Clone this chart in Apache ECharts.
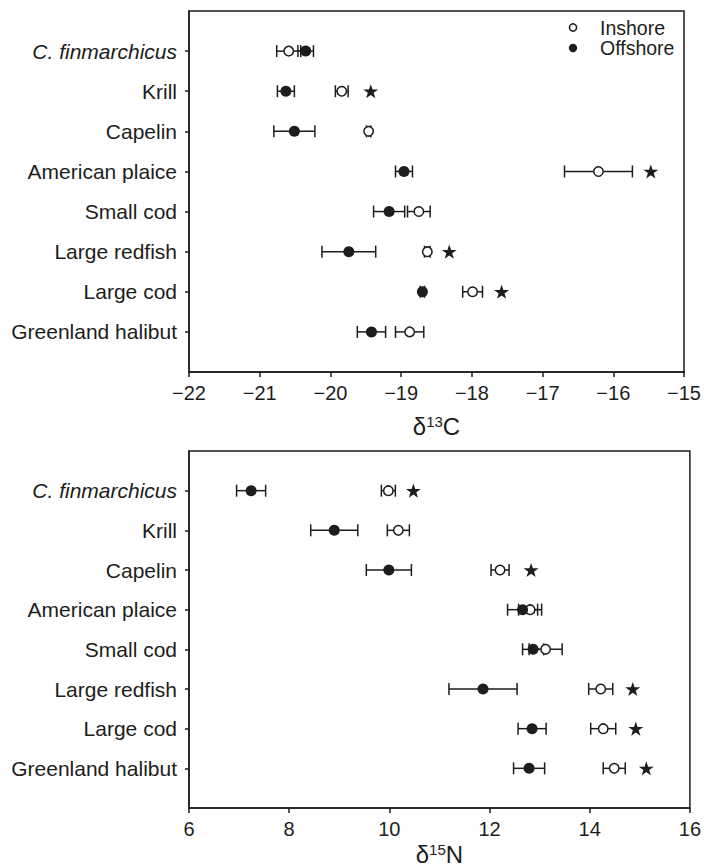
<!DOCTYPE html>
<html>
<head>
<meta charset="utf-8">
<script src="https://cdn.jsdelivr.net/npm/echarts@6/dist/echarts.min.js"></script>
<style>
html,body{margin:0;padding:0;background:#fff;}
#chart{width:704px;height:867px;}
</style>
</head>
<body>
<div id="chart"></div>
<script>
// ---- Data ----
const categories = ['C. finmarchicus','Krill','Capelin','American plaice','Small cod','Large redfish','Large cod','Greenland halibut'];
const legendNames = ['Inshore', 'Offshore'];

// delta 13C panel
const c13Inshore     = [-20.59, -19.84, -19.46, -16.21, -18.75, -18.63, -17.99, -18.88];
const c13InshoreErr  = [0.17, 0.09, 0.03, 0.48, 0.16, 0.04, 0.14, 0.20];
const c13Offshore    = [-20.35, -20.63, -20.51, -18.96, -19.17, -19.74, -18.70, -19.42];
const c13OffshoreErr = [0.11, 0.12, 0.29, 0.12, 0.22, 0.38, 0.03, 0.20];
const c13Star        = [null, -19.43, null, -15.47, null, -18.32, -17.58, null];

// delta 15N panel
const n15Inshore     = [9.98, 10.18, 12.21, 12.81, 13.12, 14.22, 14.27, 14.49];
const n15InshoreErr  = [0.14, 0.22, 0.18, 0.23, 0.33, 0.24, 0.25, 0.22];
const n15Offshore    = [7.24, 8.90, 9.99, 12.66, 12.87, 11.87, 12.85, 12.79];
const n15OffshoreErr = [0.29, 0.47, 0.45, 0.30, 0.21, 0.68, 0.28, 0.31];
const n15Star        = [10.48, null, 12.83, null, null, 14.86, 14.92, 15.13];

const c13Ticks = [-22, -21, -20, -19, -18, -17, -16, -15];
const n15Ticks = [6, 8, 10, 12, 14, 16];

// ---- Styling ----
const INK = '#1d1d1b';
const FONT = '"Liberation Sans", Arial, Helvetica, sans-serif';
const STAR = 'path://M50,0 L61.8,35.1 L98.9,35.1 L68.8,56.7 L80.3,91.9 L50,70.2 L19.7,91.9 L31.2,56.7 L1.1,35.1 L38.2,35.1 Z';
const catValues = categories.map((c, i) => i + 1);

function pts(arr) { return arr.map((v, i) => v == null ? null : [v, i + 1]).filter(d => d); }
function errPts(vals, errs) { return vals.map((v, i) => [v, i + 1, errs[i]]); }

function errSeries(idx, vals, errs) {
  return {
    type: 'custom', xAxisIndex: idx, yAxisIndex: idx, silent: true, z: 2,
    data: errPts(vals, errs),
    encode: { x: 0, y: 1 },
    renderItem: function (params, api) {
      const x = api.value(0), y = api.value(1), e = api.value(2);
      const p0 = api.coord([x - e, y]), p1 = api.coord([x + e, y]);
      const h = 6;
      const st = { stroke: INK, lineWidth: 1.5 };
      return { type: 'group', children: [
        { type: 'line', shape: { x1: p0[0], y1: p0[1], x2: p1[0], y2: p1[1] }, style: st },
        { type: 'line', shape: { x1: p0[0], y1: p0[1] - h, x2: p0[0], y2: p0[1] + h }, style: st },
        { type: 'line', shape: { x1: p1[0], y1: p1[1] - h, x2: p1[0], y2: p1[1] + h }, style: st }
      ]};
    }
  };
}

function yAxis(idx) {
  return {
    type: 'value', gridIndex: idx, min: 0, max: 9, interval: 1, inverse: true,
    axisLine: { show: true, lineStyle: { color: INK, width: 1.5 } },
    axisTick: { show: true, length: 4, customValues: catValues, lineStyle: { color: INK, width: 1.5 } },
    splitLine: { show: false },
    axisLabel: {
      customValues: catValues, margin: 12, color: INK, fontSize: 21, fontFamily: FONT,
      formatter: function (v) {
        const name = categories[Math.round(v) - 1] || '';
        return Math.round(v) === 1 ? '{it|' + name + '}' : name;
      },
      rich: { it: { fontStyle: 'italic', fontSize: 21, fontFamily: FONT, color: INK } }
    }
  };
}

function xAxis(idx, min, max, interval, nameSup, nameEnd, gap) {
  return {
    type: 'value', gridIndex: idx, min: min, max: max, interval: interval,
    axisLine: { show: true, onZero: false, lineStyle: { color: INK, width: 1.5 } },
    axisTick: { show: true, length: 5, lineStyle: { color: INK, width: 1.5 } },
    splitLine: { show: false },
    axisLabel: {
      margin: 11, color: INK, fontSize: 20, fontFamily: FONT,
      formatter: v => (v < 0 ? '\u2212' + Math.abs(v) : String(v))
    },
    name: '{m|\u03b4}{s|' + nameSup + '}{m|' + nameEnd + '}',
    nameLocation: 'middle', nameGap: gap,
    nameTextStyle: {
      rich: {
        m: { fontSize: 24, fontFamily: FONT, color: INK },
        s: { fontSize: 15, fontFamily: FONT, color: INK, verticalAlign: 'top', padding: [0, 0, 8, 0] }
      }
    }
  };
}

const inshoreStyle = { color: '#ffffff', borderColor: INK, borderWidth: 1.5, opacity: 1 };
const offshoreStyle = { color: INK, opacity: 1 };

const option = {
  backgroundColor: '#ffffff',
  animation: false,
  grid: [
    { left: 189, top: 11, width: 501, height: 361, show: true, borderColor: INK, borderWidth: 1.5, backgroundColor: 'transparent' },
    { left: 189, top: 451, width: 501, height: 361, show: true, borderColor: INK, borderWidth: 1.5, backgroundColor: 'transparent' }
  ],
  graphic: [
    { type: 'circle', shape: { cx: 573, cy: 27.5, r: 3.6 }, style: { fill: '#fff', stroke: INK, lineWidth: 1.5 }, z: 10 },
    { type: 'text', x: 600, y: 27.5, style: { text: legendNames[0], fontSize: 19.5, fontFamily: FONT, fill: INK, verticalAlign: 'middle', align: 'left' }, z: 10 },
    { type: 'circle', shape: { cx: 573, cy: 48, r: 4.2 }, style: { fill: INK }, z: 10 },
    { type: 'text', x: 600, y: 48, style: { text: legendNames[1], fontSize: 19.5, fontFamily: FONT, fill: INK, verticalAlign: 'middle', align: 'left' }, z: 10 }
  ],
  xAxis: [
    xAxis(0, c13Ticks[0], c13Ticks[c13Ticks.length - 1], 1, '13', 'C', 42),
    xAxis(1, n15Ticks[0], n15Ticks[n15Ticks.length - 1], 2, '15', 'N', 34)
  ],
  yAxis: [yAxis(0), yAxis(1)],
  series: [
    errSeries(0, c13Inshore, c13InshoreErr),
    errSeries(0, c13Offshore, c13OffshoreErr),
    { name: 'Inshore', type: 'scatter', xAxisIndex: 0, yAxisIndex: 0, z: 3, symbol: 'circle', symbolSize: 9.5, itemStyle: inshoreStyle, data: pts(c13Inshore) },
    { name: 'Offshore', type: 'scatter', xAxisIndex: 0, yAxisIndex: 0, z: 4, symbol: 'circle', symbolSize: 11, itemStyle: offshoreStyle, data: pts(c13Offshore) },
    { name: 'Significant', type: 'scatter', xAxisIndex: 0, yAxisIndex: 0, z: 4, symbol: STAR, symbolKeepAspect: true, symbolSize: 15, itemStyle: offshoreStyle, data: pts(c13Star) },

    errSeries(1, n15Inshore, n15InshoreErr),
    errSeries(1, n15Offshore, n15OffshoreErr),
    { name: 'Inshore', type: 'scatter', xAxisIndex: 1, yAxisIndex: 1, z: 3, symbol: 'circle', symbolSize: 9.5, itemStyle: inshoreStyle, data: pts(n15Inshore) },
    { name: 'Offshore', type: 'scatter', xAxisIndex: 1, yAxisIndex: 1, z: 4, symbol: 'circle', symbolSize: 11, itemStyle: offshoreStyle, data: pts(n15Offshore) },
    { name: 'Significant', type: 'scatter', xAxisIndex: 1, yAxisIndex: 1, z: 4, symbol: STAR, symbolKeepAspect: true, symbolSize: 15, itemStyle: offshoreStyle, data: pts(n15Star) }
  ]
};

const chart = echarts.init(document.getElementById('chart'), null, { renderer: 'svg', width: 704, height: 867 });
chart.setOption(option);
</script>
</body>
</html>
